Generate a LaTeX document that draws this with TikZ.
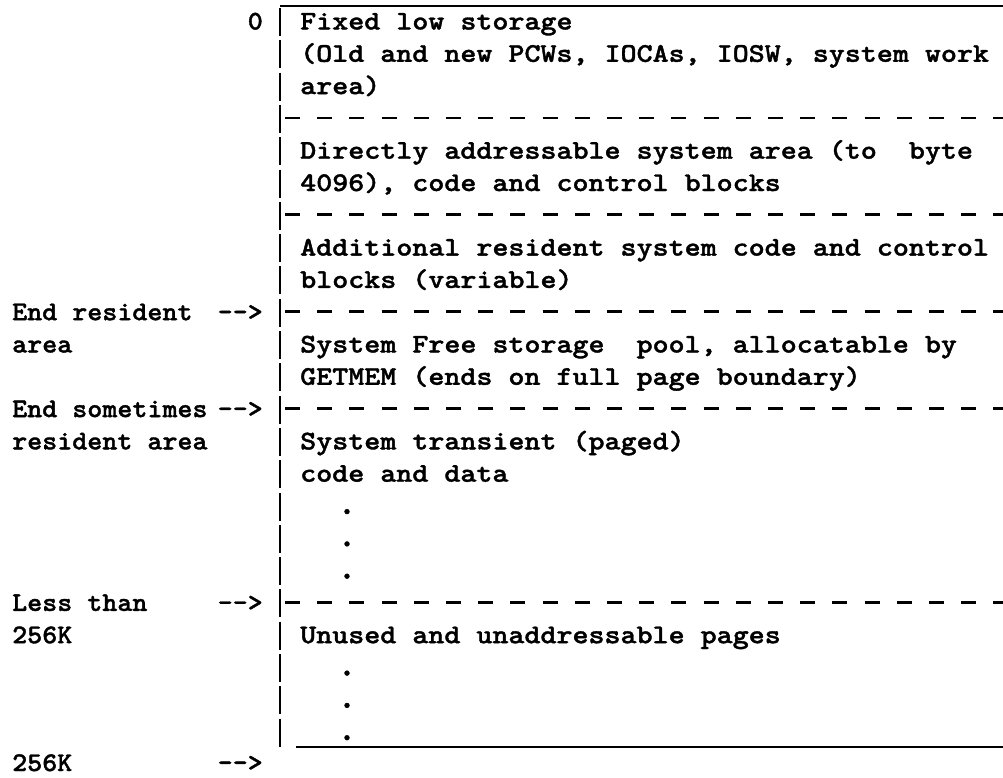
\documentclass[tikz,border=0pt]{standalone}
\usepackage{fontspec}
\newfontfamily\typefont{lmmonolt10-bold}[Extension=.otf, FakeBold=1.3]
\newcommand\rfont{\typefont\fontsize{27}{30}\selectfont}
\tikzset{
  rtxt/.style={anchor=base west, inner sep=0pt, font=\rfont, xscale=1.13},
  ltxt/.style={anchor=base west, inner sep=0pt, font=\rfont, xscale=1.06},
  arr/.style={anchor=base east, inner sep=0pt, font=\rfont, xscale=1.06},
  dotc/.style={anchor=base, inner sep=0pt, font=\rfont, scale=1.3},
  bar/.style={line width=1.7pt},
  sep/.style={line width=2.8pt, dash pattern=on 15pt off 17.2pt},
  rule/.style={line width=2pt}
}
\begin{document}
\begin{tikzpicture}[x=1pt,y=-1pt]
\useasboundingbox (0,0) rectangle (1003,777);
% rules
\coordinate (tl) at (280,6);   \coordinate (tr) at (1003,6);
\coordinate (bl) at (296,747); \coordinate (br) at (1003,747);
\draw[rule] (tl) -- (tr);
\draw[rule] (bl) -- (br);
% vertical bar, one stroke per typed line
\foreach \n in {0,...,22} {
  \draw[bar] (280,{22+32.3*\n-14}) -- (280,{22+32.3*\n+14});
}
% dashed separators
\foreach \y/\nm in {117.9/a,214.8/b,311.7/c,408.6/d,602.4/e} {
  \coordinate (s\nm1) at (285,\y); \coordinate (s\nm2) at (1003,\y);
  \draw[sep] (s\nm1) -- (s\nm2);
}
% right-hand text
\node[rtxt] (t0)  at (300,29.5)  {Fixed low storage};
\node[rtxt] (t1)  at (300,61.8)  {(Old and new PCWs, IOCAs, IOSW, system work};
\node[rtxt] (t2)  at (300,94.1)  {area)};
\node[rtxt] (t4)  at (300,158.7) {Directly addressable system area (to~~byte};
\node[rtxt] (t5)  at (300,191.0) {4096), code and control blocks};
\node[rtxt] (t7)  at (300,255.6) {Additional resident system code and control};
\node[rtxt] (t8)  at (300,287.9) {blocks (variable)};
\node[rtxt] (t10) at (300,352.5) {System Free storage~~pool, allocatable by};
\node[rtxt] (t11) at (300,384.8) {GETMEM (ends on full page boundary)};
\node[rtxt] (t13) at (300,449.4) {System transient (paged)};
\node[rtxt] (t14) at (300,481.7) {code and data};
\node[rtxt] (t19) at (300,643.2) {Unused and unaddressable pages};
% dots
\node[dotc] (d15) at (347,514.0) {.};
\node[dotc] (d16) at (347,546.3) {.};
\node[dotc] (d17) at (347,578.6) {.};
\node[dotc] (d20) at (347,675.5) {.};
\node[dotc] (d21) at (347,707.8) {.};
\node[dotc] (d22) at (347,740.1) {.};
% left-hand labels
\node[arr]  (l0)  at (263,29.5)  {0};
\node[ltxt] (l9)  at (12,320.2)  {End resident};
\node[arr]  (a9)  at (263,320.2) {-{}->};
\node[ltxt] (l10) at (12,352.5)  {area};
\node[ltxt] (l12) at (12,417.1)  {End sometimes};
\node[arr]  (a12) at (263,417.1) {-{}->};
\node[ltxt] (l13) at (12,449.4)  {resident area};
\node[ltxt] (l18) at (12,610.9)  {Less than};
\node[arr]  (a18) at (263,610.9) {-{}->};
\node[ltxt] (l19) at (12,643.2)  {256K};
\node[ltxt] (l23) at (12,771)    {256K};
\node[arr]  (a23) at (263,771)   {-{}->};
\end{tikzpicture}
\end{document}
